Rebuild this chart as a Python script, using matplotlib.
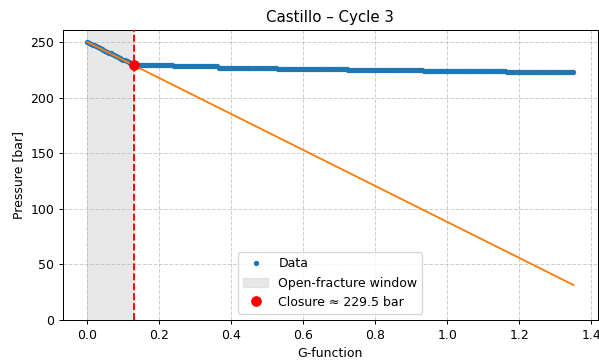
import numpy as np
import matplotlib
matplotlib.use("Agg")
import matplotlib.pyplot as plt

# G-function readings (step 0.005) and pressure readings [bar]
g = np.round(np.arange(0, 1.3501, 0.005), 3)

# early linear decline (0 .. 0.13)
early = [250.0, 249.2, 248.4, 247.6, 246.9, 246.1, 245.3, 244.5, 243.7, 242.9,
         242.1, 241.3, 240.5, 239.7, 238.9, 238.2, 237.4, 236.6, 235.8, 235.0,
         234.2, 233.4, 232.6, 231.8, 231.0, 230.3, 229.5]
# flat stepped levels after closure: (level, number of readings)
levels = [229.0, 228.0, 227.0, 226.0, 225.0, 224.0, 223.0]
counts = [21, 25, 33, 39, 42, 46, 38]

pressure = early + [lv for lv, n in zip(levels, counts) for _ in range(n)]
pressure = np.array(pressure[:len(g)])

g_close = 0.13
p_close = 229.5
fit_g = [0.0, 1.35]
fit_p = [250.0, 31.5]

fig = plt.figure(figsize=(599 / 90, 360 / 90), dpi=90)
ax = fig.add_axes([0.105, 0.111, 0.893, 0.806])

ax.plot(g, pressure, ".", color="#1f77b4", markersize=6.5, label="Data", zorder=2)
ax.axvspan(0, g_close, color="lightgrey", alpha=0.5, label="Open-fracture window", zorder=1)
ax.plot(fit_g, fit_p, color="#ff7f0e", lw=1.5, zorder=3)
ax.axvline(g_close, color="red", ls="--", lw=1.5, zorder=4)
ax.plot(g_close, p_close, "o", color="red", markersize=7.5,
        label=f"Closure \u2248 {p_close} bar", zorder=5)

ax.set_ylim(bottom=0)
ax.grid(True, ls="--", alpha=0.6)
ax.set_xlabel("G-function")
ax.set_ylabel("Pressure [bar]")
ax.set_title("Castillo \u2013 Cycle 3")
ax.legend(loc="lower center")

fig.savefig("out.png", dpi=90)
